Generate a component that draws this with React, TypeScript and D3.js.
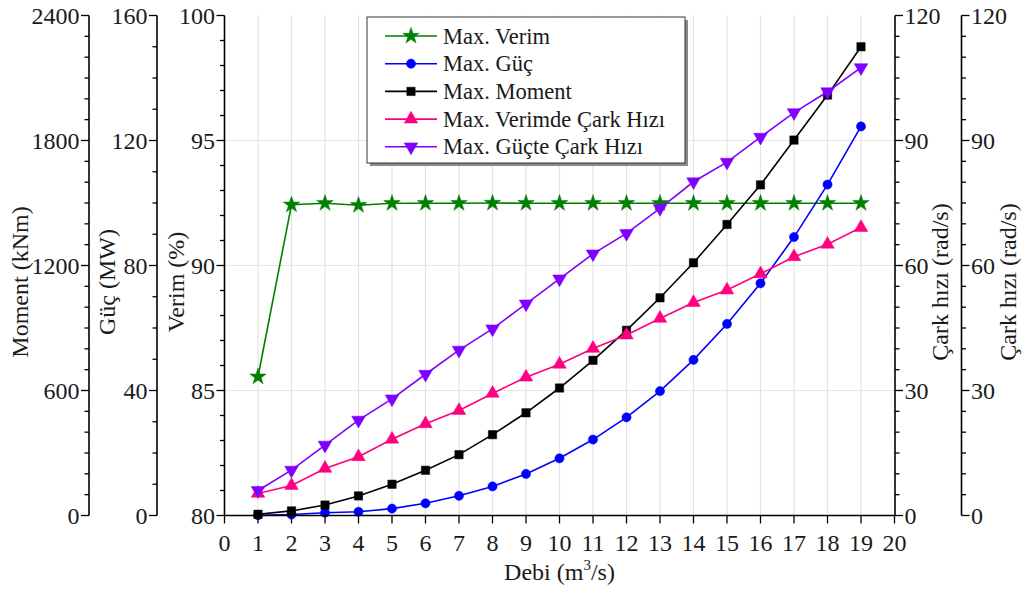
import React from 'react';
import * as d3 from 'd3';

// Flow rate (m³/s)
const debi = [1, 2, 3, 4, 5, 6, 7, 8, 9, 10, 11, 12, 13, 14, 15, 16, 17, 18, 19];

// Series values
const maxVerim = [85.55, 92.43, 92.49, 92.41, 92.49, 92.49, 92.49, 92.5, 92.49, 92.49, 92.49, 92.49, 92.49, 92.49, 92.49, 92.49, 92.49, 92.49, 92.49];
const maxGuc = [0.1, 0.3, 0.9, 1.2, 2.2, 3.9, 6.3, 9.3, 13.3, 18.3, 24.3, 31.4, 39.8, 49.8, 61.3, 74.3, 89.1, 105.9, 124.5];
const maxMoment = [6, 22, 50, 94, 150, 217, 292, 388, 493, 612, 745, 889, 1045, 1213, 1397, 1587, 1802, 2018, 2250];
const verimdeCarkHizi = [5.3, 7.2, 11.3, 14.1, 18.3, 22.0, 25.2, 29.3, 33.2, 36.3, 40.1, 43.3, 47.3, 51.1, 54.1, 58.0, 62.1, 65.1, 69.1];
const guctenCarkHizi = [6.0, 10.9, 16.9, 22.9, 28.0, 33.9, 39.7, 44.8, 50.8, 56.8, 62.8, 67.7, 73.7, 80.1, 84.8, 90.8, 96.7, 101.7, 107.5];

// Tick labels
const debiTicks = d3.range(0, 21);
const momentTicks = [0, 600, 1200, 1800, 2400];
const gucTicks = [0, 40, 80, 120, 160];
const verimTicks = [80, 85, 90, 95, 100];
const carkTicks = [0, 30, 60, 90, 120];
const gridVerim = [85, 90, 95];

const FONT = '"Liberation Serif", "Times New Roman", serif';
const W = 1025;
const H = 592;
const top = 15.5;
const bottom = 515.5;
const left = 224.5;
const right = 894.5;

const x = d3.scaleLinear().domain([0, 20]).range([left, right]);
const yVerim = d3.scaleLinear().domain([80, 100]).range([bottom, top]);
const yGuc = d3.scaleLinear().domain([0, 160]).range([bottom, top]);
const yMoment = d3.scaleLinear().domain([0, 2400]).range([bottom, top]);
const yCark = d3.scaleLinear().domain([0, 120]).range([bottom, top]);

type Sym = 'star' | 'circle' | 'square' | 'triUp' | 'triDown';

const symbolPath = (s: Sym): string => {
  switch (s) {
    case 'star':
      return d3.symbol(d3.symbolStar, 85)()!;
    case 'circle':
      return d3.symbol(d3.symbolCircle, 66)()!;
    case 'square':
      return d3.symbol(d3.symbolSquare, 70)()!;
    default:
      return d3.symbol(d3.symbolTriangle, 80)()!;
  }
};

interface Series {
  name: string;
  values: number[];
  scale: d3.ScaleLinear<number, number>;
  color: string;
  sym: Sym;
}

const series: Series[] = [
  { name: 'Max. Verim', values: maxVerim, scale: yVerim, color: '#008000', sym: 'star' },
  { name: 'Max. Güç', values: maxGuc, scale: yGuc, color: '#0000ff', sym: 'circle' },
  { name: 'Max. Moment', values: maxMoment, scale: yMoment, color: '#000000', sym: 'square' },
  { name: 'Max. Verimde Çark Hızı', values: verimdeCarkHizi, scale: yCark, color: '#ff0080', sym: 'triUp' },
  { name: 'Max. Güçte Çark Hızı', values: guctenCarkHizi, scale: yCark, color: '#8000ff', sym: 'triDown' },
];

const Marker = ({ sym, cx, cy, color }: { sym: Sym; cx: number; cy: number; color: string }) => (
  <path
    d={symbolPath(sym)}
    transform={`translate(${cx},${cy})${sym === 'triDown' ? ' rotate(180)' : ''}`}
    fill={color}
    stroke={color}
    strokeWidth={0.5}
  />
);

interface AxisProps {
  xPos: number;
  scale: d3.ScaleLinear<number, number>;
  ticks: number[];
  minorStep: number;
  side: 'left' | 'right';
  title: string;
  titleX: number;
}

const VerticalAxis = ({ xPos, scale, ticks, minorStep, side, title, titleX }: AxisProps) => {
  const [d0, d1] = scale.domain();
  const minors = d3.range(d0, d1 + minorStep / 2, minorStep).filter((v) => !ticks.some((t) => Math.abs(t - v) < 1e-9));
  const dir = side === 'left' ? -1 : 1;
  return (
    <g>
      <line x1={xPos} x2={xPos} y1={top} y2={bottom} stroke="#000" strokeWidth={1.6} />
      {minors.map((v) => (
        <line key={`m${v}`} x1={xPos} x2={xPos + dir * 4.5} y1={scale(v)} y2={scale(v)} stroke="#000" strokeWidth={1.3} />
      ))}
      {ticks.map((v) => (
        <g key={`t${v}`}>
          <line x1={xPos} x2={xPos + dir * 8} y1={scale(v)} y2={scale(v)} stroke="#000" strokeWidth={1.3} />
          <text
            x={xPos + dir * 9.5}
            y={scale(v)}
            dy="0.34em"
            textAnchor={side === 'left' ? 'end' : 'start'}
            fontSize={24}
            fontFamily={FONT}
            fill="#1a1a1a"
          >
            {v}
          </text>
        </g>
      ))}
      <text
        transform={`translate(${titleX},282) rotate(-90)`}
        textAnchor="middle"
        dy="0.34em"
        fontSize={24}
        fontFamily={FONT}
        fill="#1a1a1a"
      >
        {title}
      </text>
    </g>
  );
};

export default function App() {
  const legendX = 367;
  const legendY = 17;
  const legendW = 318;
  const legendH = 146;
  return (
    <svg width={W} height={H} style={{ position: 'absolute', left: 0, top: 0, background: '#fff' }}>
      <rect x={0} y={0} width={W} height={H} fill="#fff" />
      {/* grid */}
      {debi.map((d) => (
        <line key={`gx${d}`} x1={x(d)} x2={x(d)} y1={top} y2={bottom} stroke="#e2e2e2" strokeWidth={1.2} />
      ))}
      {gridVerim.map((v) => (
        <line key={`gy${v}`} x1={left} x2={right} y1={yVerim(v)} y2={yVerim(v)} stroke="#e6e6e6" strokeWidth={1.2} />
      ))}

      {/* series */}
      {series.map((s) => {
        const line = d3
          .line<number>()
          .x((_, i) => x(debi[i]))
          .y((v) => s.scale(v));
        return (
          <g key={s.name}>
            <path d={line(s.values)!} fill="none" stroke={s.color} strokeWidth={1.6} />
            {s.values.map((v, i) => (
              <Marker key={i} sym={s.sym} cx={x(debi[i])} cy={s.scale(v)} color={s.color} />
            ))}
          </g>
        );
      })}

      {/* x axis */}
      <line x1={left} x2={right} y1={bottom} y2={bottom} stroke="#000" strokeWidth={1.6} />
      {debiTicks.map((d) => (
        <g key={`xt${d}`}>
          <line x1={x(d)} x2={x(d)} y1={bottom} y2={bottom + 8} stroke="#000" strokeWidth={1.3} />
          <text x={x(d)} y={bottom + 27} dy="0.34em" textAnchor="middle" fontSize={24} fontFamily={FONT} fill="#1a1a1a">
            {d}
          </text>
        </g>
      ))}
      <text x={(left + right) / 2} y={580} textAnchor="middle" fontSize={24} fontFamily={FONT} fill="#1a1a1a">
        Debi (m
        <tspan fontSize={15} dy={-10}>
          3
        </tspan>
        <tspan dy={10}>/s)</tspan>
      </text>

      {/* y axes */}
      <VerticalAxis xPos={89} scale={yMoment} ticks={momentTicks} minorStep={100} side="left" title="Moment (kNm)" titleX={20} />
      <VerticalAxis xPos={157} scale={yGuc} ticks={gucTicks} minorStep={10} side="left" title="Güç (MW)" titleX={107} />
      <VerticalAxis xPos={left} scale={yVerim} ticks={verimTicks} minorStep={1} side="left" title="Verim (%)" titleX={176} />
      <VerticalAxis xPos={895} scale={yCark} ticks={carkTicks} minorStep={5} side="right" title="Çark hızı (rad/s)" titleX={940} />
      <VerticalAxis xPos={961.5} scale={yCark} ticks={carkTicks} minorStep={5} side="right" title="Çark hızı (rad/s)" titleX={1008} />

      {/* legend */}
      <rect x={legendX + 3} y={legendY + 3} width={legendW} height={legendH} fill="#8a8a8a" />
      <rect x={legendX} y={legendY} width={legendW} height={legendH} fill="#fff" stroke="#333" strokeWidth={1} />
      {series.map((s, i) => {
        const cy = 36 + i * 27.7;
        return (
          <g key={`lg${s.name}`}>
            <line x1={385} x2={437} y1={cy} y2={cy} stroke={s.color} strokeWidth={1.6} />
            <Marker sym={s.sym} cx={411} cy={cy} color={s.color} />
            <text x={443} y={cy} dy="0.34em" fontSize={22.5} fontFamily={FONT} fill="#1a1a1a">
              {s.name}
            </text>
          </g>
        );
      })}
    </svg>
  );
}
